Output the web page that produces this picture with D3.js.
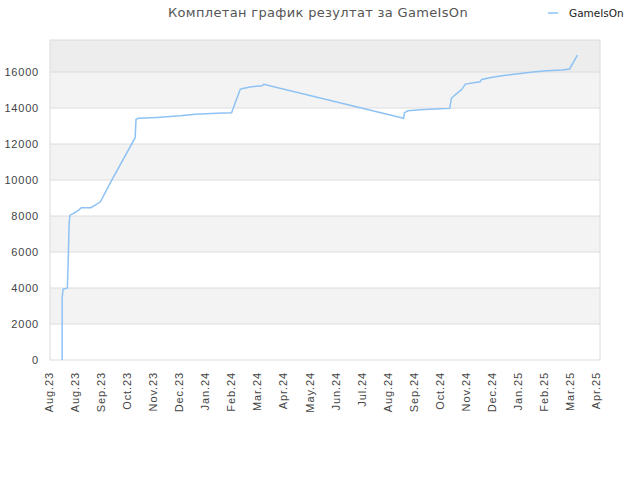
<!DOCTYPE html>
<html>
<head>
<meta charset="utf-8">
<script src="https://cdn.jsdelivr.net/npm/d3@7"></script>
<style>
  body { margin: 0; background: #fff; }
  #container { width: 640px; height: 480px; }
</style>
</head>
<body>
<div id="container"></div>
<script>
const width = 640;
const height = 480;

// data
const dates = [
  "2023-08-15","2023-08-15","2023-08-16","2023-08-21","2023-08-22","2023-08-23","2023-08-24",
  "2023-08-28","2023-09-03","2023-09-06","2023-09-17","2023-09-22","2023-09-28","2023-10-10",
  "2023-11-07","2023-11-08","2023-11-11","2023-12-02","2023-12-29","2024-01-15","2024-02-09",
  "2024-02-26","2024-03-01","2024-03-07","2024-03-10","2024-03-20","2024-04-01","2024-04-03",
  "2024-09-11","2024-09-12","2024-09-16","2024-09-30","2024-10-23","2024-11-03","2024-11-05",
  "2024-11-09","2024-11-17","2024-11-21","2024-12-08","2024-12-10","2024-12-19","2025-01-02",
  "2025-01-21","2025-02-07","2025-02-23","2025-03-12","2025-03-21","2025-03-30"
];
const scores = [
  0, 3440, 3930, 4000, 5590, 7610, 8050,
  8150, 8330, 8460, 8460, 8610, 8790, 9900,
  12350, 13370, 13430, 13480, 13570, 13650, 13710,
  13740, 14260, 15040, 15090, 15180, 15240, 15320,
  13430, 13740, 13850, 13900, 13960, 13980, 14540,
  14720, 15040, 15330, 15460, 15590, 15680, 15790,
  15900, 16000, 16070, 16110, 16170, 16940
];
const yTicks = [0, 2000, 4000, 6000, 8000, 10000, 12000, 14000, 16000];
const xTickLabels = ["Aug.23","Aug.23","Sep.23","Oct.23","Nov.23","Dec.23","Jan.24","Feb.24",
  "Mar.24","Apr.24","May.24","Jun.24","Jul.24","Aug.24","Sep.24","Oct.24","Nov.24","Dec.24",
  "Jan.25","Feb.25","Mar.25","Apr.25"];
const seriesName = "GameIsOn";
const title = "Комплетан график резултат за GameIsOn";

const parse = d3.timeParse("%Y-%m-%d");
const points = dates.map((d, i) => ({date: parse(d), value: scores[i]}));

const margin = {top: 40, right: 40, bottom: 120, left: 50};
const start = parse("2023-08-01");
const end = parse("2025-04-25");

const x = d3.scaleTime().domain([start, end]).range([margin.left, width - margin.right]);
const y = d3.scaleLinear().domain([0, 17780]).range([height - margin.bottom, margin.top]);

const xTickValues = xTickLabels.map((_, i) => d3.timeDay.offset(start, i * 30));

const svg = d3.create("svg")
    .attr("width", width)
    .attr("height", height)
    .attr("viewBox", `0 0 ${width} ${height}`)
    .attr("xmlns", "http://www.w3.org/2000/svg")
    .style("font-family", "DejaVu Sans, sans-serif");

// alternating bands
const bandEdges = yTicks.concat([y.domain()[1]]);
svg.append("g").selectAll("rect")
    .data(bandEdges.slice(0, -1))
    .join("rect")
    .attr("x", margin.left)
    .attr("width", width - margin.left - margin.right)
    .attr("y", (d, i) => y(bandEdges[i + 1]))
    .attr("height", (d, i) => y(d) - y(bandEdges[i + 1]))
    .attr("fill", (d, i) => i === bandEdges.length - 2 ? "#ededed" : (i % 2 ? "#f3f3f3" : "#ffffff"));

// grid lines
svg.append("g").selectAll("line")
    .data(yTicks.slice(1))
    .join("line")
    .attr("x1", margin.left)
    .attr("x2", width - margin.right)
    .attr("y1", d => y(d))
    .attr("y2", d => y(d))
    .attr("stroke", "#dddddd")
    .attr("stroke-width", 1);

// frame
svg.append("rect")
    .attr("x", margin.left)
    .attr("y", margin.top)
    .attr("width", width - margin.left - margin.right)
    .attr("height", height - margin.top - margin.bottom)
    .attr("fill", "none")
    .attr("stroke", "#dcdcdc")
    .attr("stroke-width", 1);

// y axis
const yAxis = svg.append("g")
    .attr("transform", `translate(${margin.left},0)`)
    .call(d3.axisLeft(y).tickValues(yTicks).tickSize(0).tickPadding(11).tickFormat(d3.format("d")));
yAxis.select(".domain").remove();
yAxis.selectAll("text")
    .attr("fill", "#444")
    .style("font-size", "11px")
    .style("letter-spacing", "0.8px");

// x axis
const xAxis = svg.append("g")
    .attr("transform", `translate(-1.5,${height - margin.bottom})`)
    .call(d3.axisBottom(x).tickValues(xTickValues).tickSize(0).tickFormat((d, i) => xTickLabels[i]));
xAxis.select(".domain").remove();
xAxis.selectAll("text")
    .attr("fill", "#444")
    .style("font-size", "11px")
    .style("letter-spacing", "0.9px")
    .attr("text-anchor", "end")
    .attr("transform", "rotate(-90)")
    .attr("x", -12)
    .attr("y", 0)
    .attr("dy", "0.35em");

// line
const line = d3.line().x(d => x(d.date)).y(d => y(d.value));
svg.append("path")
    .datum(points)
    .attr("d", line)
    .attr("fill", "none")
    .attr("stroke", "#8ec2f4")
    .attr("stroke-width", 1.5);

// title
svg.append("text")
    .attr("x", 318)
    .attr("y", 17)
    .attr("text-anchor", "middle")
    .attr("fill", "#555")
    .style("font-size", "13px")
    .style("letter-spacing", "0.33px")
    .text(title);

// legend
svg.append("line")
    .attr("x1", 548).attr("x2", 558)
    .attr("y1", 13).attr("y2", 13)
    .attr("stroke", "#8ec2f4")
    .attr("stroke-width", 1.5);
svg.append("text")
    .attr("x", 569)
    .attr("y", 17)
    .attr("fill", "#222")
    .style("font-size", "10.5px")
    .text(seriesName);

document.getElementById("container").append(svg.node());
</script>
</body>
</html>
